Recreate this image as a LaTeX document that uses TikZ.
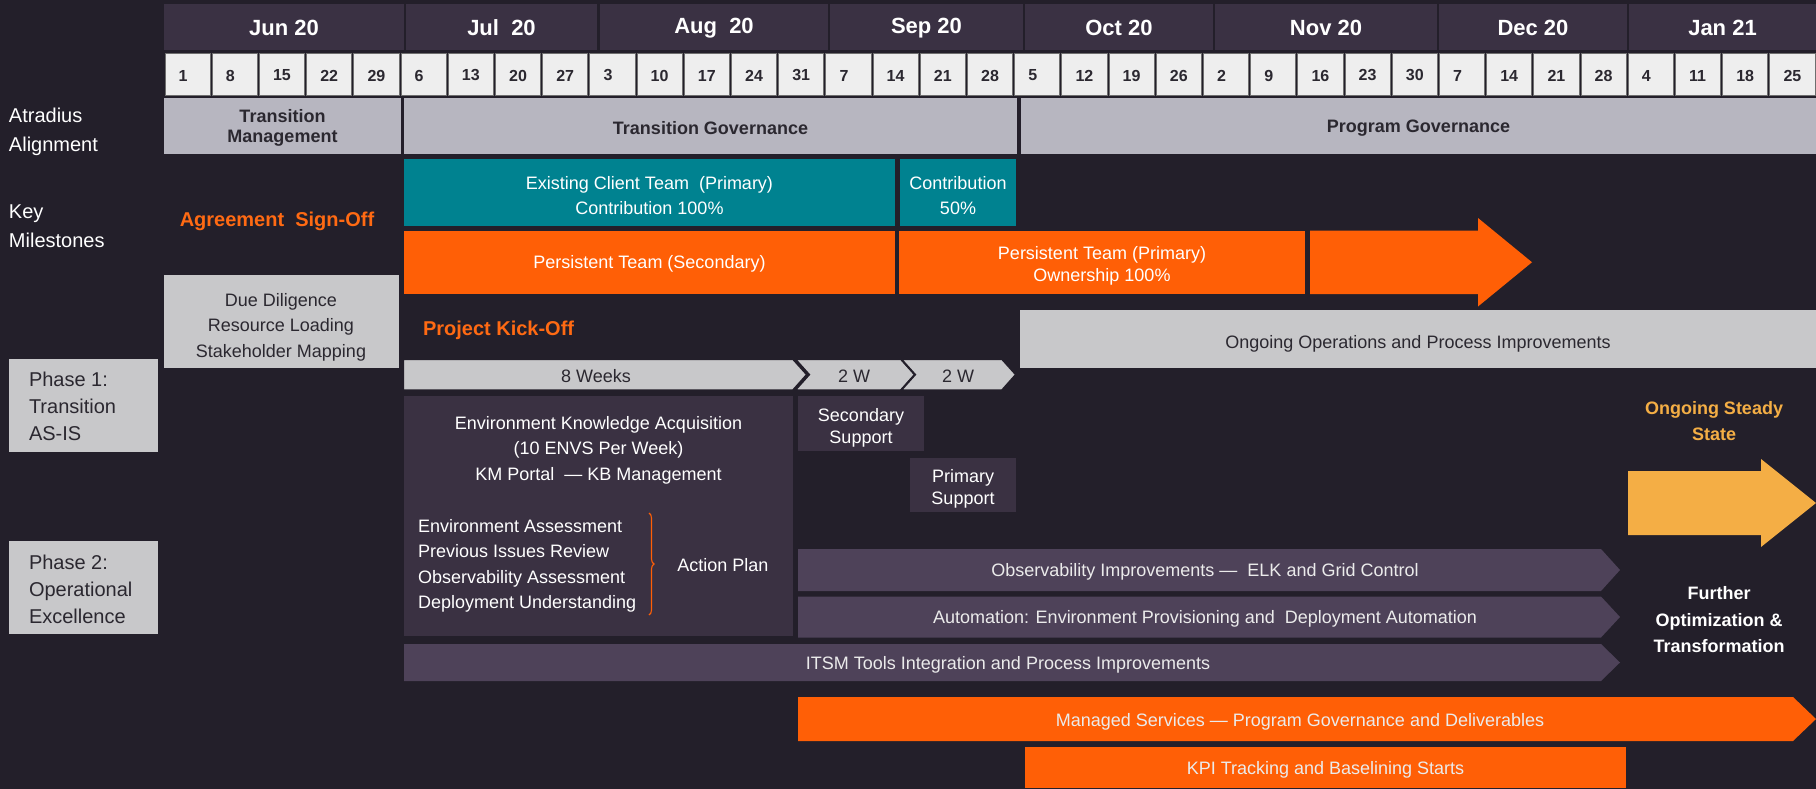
\documentclass[tikz,border=0pt]{standalone}
\usepackage{fontspec}
\setmainfont{Liberation Sans}
\usetikzlibrary{decorations.pathreplacing}
\definecolor{bgc}{HTML}{231F2A}
\definecolor{monthc}{HTML}{3A3143}
\definecolor{dayc}{HTML}{EEEEEE}
\definecolor{dayline}{HTML}{6E6E6E}
\definecolor{atrc}{HTML}{B7B6C0}
\definecolor{lgray}{HTML}{C8C8CA}
\definecolor{tealc}{HTML}{008290}
\definecolor{orc}{HTML}{FF5F06}
\definecolor{ortxt}{HTML}{FF6A13}
\definecolor{purpc}{HTML}{3A3142}
\definecolor{barc}{HTML}{4E4259}
\definecolor{yelc}{HTML}{F4AE45}
\definecolor{dtxt}{HTML}{2B2830}
\tikzset{
  every node/.style={inner sep=0pt,outer sep=0pt},
  monthtxt/.style={text=white,font=\fontsize{22}{26}\selectfont\bfseries},
  daytxt/.style={text=dtxt,font=\fontsize{16}{19}\selectfont\bfseries,anchor=west},
  atrtxt/.style={text=dtxt,font=\fontsize{18}{20}\selectfont\bfseries,align=center},
  lefttxt/.style={text=white,font=\fontsize{20}{29}\selectfont,align=left,anchor=west},
  phasetxt/.style={text=dtxt,font=\fontsize{20}{27}\selectfont,align=left,anchor=west},
  bodyw/.style={text=white,font=\fontsize{18}{25.5}\selectfont,align=center},
  bodyd/.style={text=dtxt,font=\fontsize{18}{25.5}\selectfont,align=center},
  tightw/.style={text=white,font=\fontsize{18}{22}\selectfont,align=center},
  bartxt/.style={text=white!92!black,font=\fontsize{18}{25.5}\selectfont,align=center},
  mstone/.style={text=ortxt,font=\fontsize{20}{24}\selectfont\bfseries},
  yeltxt/.style={text=yelc,font=\fontsize{18}{25.5}\selectfont\bfseries,align=center},
  whitebold/.style={text=white,font=\fontsize{18}{26.5}\selectfont\bfseries,align=center},
  chev/.style={fill=lgray,draw=bgc,line width=2pt,line join=miter},
}
\begin{document}
\begin{tikzpicture}[x=1pt,y=-1pt]
\fill[bgc] (0,0) rectangle (1816,789);
\useasboundingbox (0,0) rectangle (1816,789);

% month row
\foreach \a/\b/\t [count=\i] in {164/404/Jun 20, 406/597/Jul~~20, 600/828/Aug~~20, 830/1023/Sep 20, 1025/1213/Oct 20, 1215/1437/Nov 20, 1439/1627/Dec 20, 1629/1816/Jan 21}{
  \fill[monthc] (\a,4) rectangle (\b,50);
  \node[monthtxt] (m\i) at ({(\a+\b)/2},28) {\t};
}
% day row
\foreach \d [count=\i from 0] in {1,8,15,22,29,6,13,20,27,3,10,17,24,31,7,14,21,28,5,12,19,26,2,9,16,23,30,7,14,21,28,4,11,18,25}{
  \pgfmathsetmacro\xl{164+47.2*\i}
  \filldraw[fill=dayc,draw=dayline,line width=0.8pt] (\xl+1,53.5) rectangle (\xl+46.2,95.5);
  \node[daytxt] (d\i) at (\xl+14.7,75.5) {\d};
}
% atradius row
\fill[atrc] (164,98) rectangle (401,154);
\node[atrtxt] (tm) at (282.5,128) {Transition\\Management};
\fill[atrc] (404,98) rectangle (1017,154);
\node[atrtxt] (tg) at (710.5,128) {Transition Governance};
\fill[atrc] (1021,98) rectangle (1816,154);
\node[atrtxt] (pg) at (1418.5,128) {Program Governance};

% left labels
\node[lefttxt] (l1) at (9,131.5) {Atradius\\Alignment};
\node[lefttxt] (l2) at (9,226.5) {Key\\Milestones};
\fill[lgray] (9,359) rectangle (157.5,452);
\node[phasetxt] (ph1) at (29,406.5) {Phase 1:\\Transition\\AS-IS};
\fill[lgray] (9,541) rectangle (157.5,633.5);
\node[phasetxt] (ph2) at (29,589.5) {Phase 2:\\Operational\\Excellence};

% teal
\fill[tealc] (404,158.7) rectangle (895,225.8);
\node[bodyw] (ect) at (649.5,195.5) {Existing Client Team~~(Primary)\\Contribution 100\%};
\fill[tealc] (900,158.7) rectangle (1016,225.8);
\node[bodyw] (c50) at (958,195.5) {Contribution\\50\%};

% orange row
\fill[orc] (404,230.5) rectangle (895,294);
\node[bodyw] (pts) at (649.5,264) {Persistent Team (Secondary)};
\fill[orc] (899,230.5) rectangle (1305,294);
\node[tightw] (ptp) at (1102,265.5) {Persistent Team (Primary)\\Ownership 100\%};
\fill[orc] (1310,230.5) -- (1478,230.5) -- (1478,218) -- (1532,262.25) -- (1478,306.5) -- (1478,294) -- (1310,294) -- cycle;

% milestones
\node[mstone] (aso) at (277,221.5) {Agreement~~Sign-Off};
\node[mstone,anchor=west] (pko) at (423,330.5) {Project Kick-Off};

% due diligence
\fill[lgray] (164,274.5) rectangle (398.5,368);
\node[bodyd] (dd) at (281,327) {Due Diligence\\Resource Loading\\Stakeholder Mapping};

% ongoing ops
\fill[lgray] (1020,310.4) rectangle (1816,368.3);
\node[bodyd] (oop) at (1418,343.5) {Ongoing Operations and Process Improvements};

% chevrons
\filldraw[chev] (403,359) -- (793,359) -- (807,374.6) -- (793,390.3) -- (403,390.3) -- cycle;
\node[bodyd] (w8) at (596,376) {8 Weeks};
\filldraw[chev] (795,359) -- (901,359) -- (915,374.6) -- (901,390.3) -- (795,390.3) -- (809,374.6) -- cycle;
\node[bodyd] (w2a) at (854,376) {2 W};
\filldraw[chev] (901,359) -- (1002,359) -- (1016,374.6) -- (1002,390.3) -- (901,390.3) -- (915,374.6) -- cycle;
\node[bodyd] (w2b) at (958,376) {2 W};

% environment knowledge box
\fill[purpc] (404,396) rectangle (793,636);
\node[bodyw] (eka) at (598.5,450) {Environment Knowledge Acquisition\\(10 ENVS Per Week)\\KM Portal~~— KB Management};
\node[bodyw,align=left,anchor=west] (lst) at (418,566) {Environment Assessment\\Previous Issues Review\\Observability Assessment\\Deployment Understanding};
\draw[orc,line width=1.1pt,decorate,decoration={brace,amplitude=5pt}] (649,513) -- (649,615);
\node[bodyw] (ap) at (723,565) {Action Plan};

% support boxes
\fill[purpc] (798,396) rectangle (924,450.5);
\node[tightw] (ss) at (861,428) {Secondary\\Support};
\fill[purpc] (910,457.5) rectangle (1016,512);
\node[tightw] (ps) at (963,489) {Primary\\Support};

% steady state
\node[yeltxt] (oss) at (1714,421) {Ongoing Steady\\State};
\fill[yelc] (1628,471) -- (1761,471) -- (1761,459) -- (1816,503) -- (1761,547) -- (1761,535) -- (1628,535) -- cycle;
\node[whitebold] (fot) at (1719,620) {Further\\Optimization \&\\Transformation};

% bars
\fill[barc] (798,549) -- (1601,549) -- (1620,570) -- (1601,591) -- (798,591) -- cycle;
\node[bartxt] (obs) at (1205,572) {Observability Improvements —~~ELK and Grid Control};
\fill[barc] (798,596.5) -- (1601,596.5) -- (1620,617) -- (1601,637.5) -- (798,637.5) -- cycle;
\node[bartxt] (aut) at (1205,619) {Automation: Environment Provisioning and~~Deployment Automation};
\fill[barc] (404,644) -- (1601,644) -- (1620,662.5) -- (1601,681) -- (404,681) -- cycle;
\node[bartxt] (itsm) at (1008,665) {ITSM Tools Integration and Process Improvements};

% managed services
\fill[orc] (798,697) -- (1793,697) -- (1816,719) -- (1793,741) -- (798,741) -- cycle;
\node[bartxt] (ms) at (1300,721.5) {Managed Services — Program Governance and Deliverables};
\fill[orc] (1025,747) rectangle (1626,787.6);
\node[bartxt] (kpi) at (1325.5,769.5) {KPI Tracking and Baselining Starts};
\end{tikzpicture}
\end{document}
